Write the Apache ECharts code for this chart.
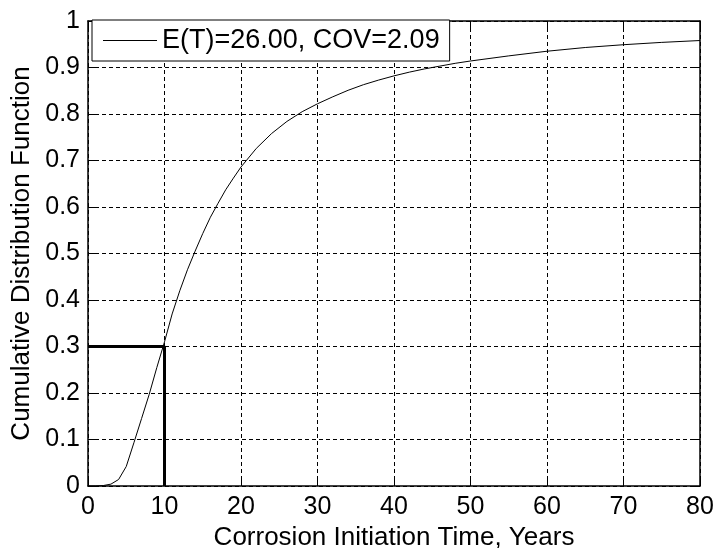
<!DOCTYPE html>
<html>
<head>
<meta charset="utf-8">
<script src="https://cdn.jsdelivr.net/npm/echarts@6/dist/echarts.min.js"></script>
<style>
  html, body { margin: 0; padding: 0; background: #fff; }
  #chart { width: 715px; height: 548px; }
</style>
</head>
<body>
<div id="chart"></div>
<script>
// CDF curve
const timeYears = [0, 1, 2, 3, 4, 5, 6, 7, 8, 9, 10, 11, 12, 13, 14, 15, 16, 17, 18, 19, 20,
  22, 24, 26, 28, 30, 32, 34, 36, 38, 40, 42, 44, 46, 48, 50, 55, 60, 65, 70, 75, 80];
const cdfValues = [0, 0, 0.001, 0.004, 0.014, 0.042, 0.093, 0.145, 0.197, 0.255, 0.31, 0.37, 0.42,
  0.465, 0.505, 0.543, 0.578, 0.608, 0.637, 0.662, 0.686, 0.726, 0.758, 0.784, 0.805, 0.822,
  0.837, 0.851, 0.863, 0.873, 0.882, 0.89, 0.897, 0.903, 0.909, 0.914, 0.925, 0.935, 0.943,
  0.949, 0.954, 0.958];
// the marked point (10 years, 0.3)
const markX = [0, 10, 10];
const markY = [0.3, 0.3, 0];

const legendName = 'E(T)=26.00, COV=2.09';
const font = 'Liberation Sans, Arial, sans-serif';

const chart = echarts.init(document.getElementById('chart'));

const dashed = { show: true, lineStyle: { color: '#000', width: 1, type: [4, 3] } };
const tick = { show: true, inside: true, length: 7, lineStyle: { color: '#000', width: 1 } };
const axisLine = { show: true, onZero: false, lineStyle: { color: '#000', width: 1.5 } };

chart.setOption({
  animation: false,
  backgroundColor: '#fff',
  textStyle: { fontFamily: font },
  grid: { left: 88, right: 15, top: 21, bottom: 62, containLabel: false, outerBoundsMode: 'none' },
  legend: {
    data: [{ name: legendName, icon: 'rect' }],
    left: 92, top: 20,
    padding: [7, 10, 7, 11],
    itemWidth: 54, itemHeight: 1,
    backgroundColor: '#fff',
    borderColor: '#000', borderWidth: 1,
    textStyle: { color: '#000', fontSize: 27, fontFamily: font }
  },
  xAxis: [
    {
      type: 'value', min: 0, max: 80, interval: 10,
      position: 'bottom',
      name: 'Corrosion Initiation Time, Years',
      nameLocation: 'middle', nameGap: 24,
      nameTextStyle: { color: '#000', fontSize: 26, fontFamily: font },
      axisLine: axisLine, axisTick: tick,
      axisLabel: { color: '#000', fontSize: 25, margin: 9, fontFamily: font },
      splitLine: dashed
    },
    {
      type: 'value', min: 0, max: 80, interval: 10,
      position: 'top',
      axisLine: axisLine, axisTick: tick,
      axisLabel: { show: false }, splitLine: { show: false }
    }
  ],
  yAxis: [
    {
      type: 'value', min: 0, max: 1, interval: 0.1,
      position: 'left',
      name: 'Cumulative Distribution Function',
      nameLocation: 'middle', nameGap: 45,
      nameTextStyle: { color: '#000', fontSize: 26, fontFamily: font },
      axisLine: axisLine, axisTick: tick,
      axisLabel: { color: '#000', fontSize: 25, margin: 8, fontFamily: font },
      splitLine: dashed
    },
    {
      type: 'value', min: 0, max: 1, interval: 0.1,
      position: 'right',
      axisLine: axisLine, axisTick: tick,
      axisLabel: { show: false }, splitLine: { show: false }
    }
  ],
  series: [
    {
      name: legendName,
      type: 'line',
      data: timeYears.map((t, i) => [t, cdfValues[i]]),
      symbol: 'none',
      lineStyle: { color: '#000', width: 1 },
      itemStyle: { color: '#000' }
    },
    {
      name: 'mark',
      type: 'line',
      data: markX.map((t, i) => [t, markY[i]]),
      symbol: 'none',
      lineStyle: { color: '#000', width: 3 },
      z: 3
    }
  ]
});
</script>
</body>
</html>
